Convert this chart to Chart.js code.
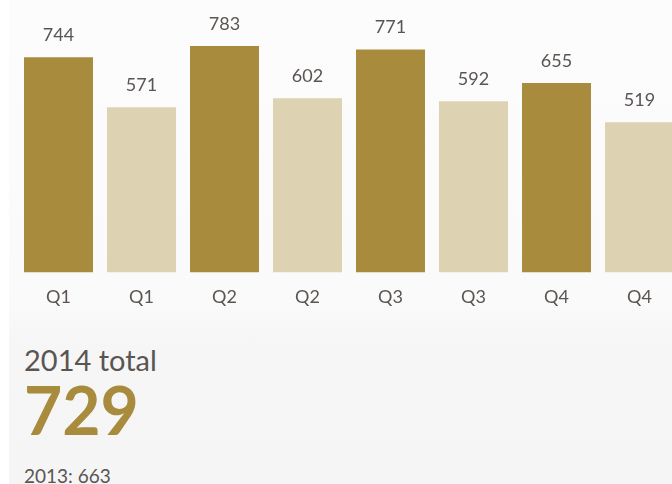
<!DOCTYPE html>
<html>
<head>
<meta charset="utf-8">
<script src="https://cdn.jsdelivr.net/npm/chart.js@4/dist/chart.umd.min.js"></script>
<style>
  html, body { margin: 0; padding: 0; background: #fff; overflow: hidden; width: 672px; height: 484px; }
  #panel { position: absolute; left: 9px; top: 0; width: 700px; height: 484px;
           background: linear-gradient(#fcfcfc 0px, #fafafa 300px, #f6f6f6 340px, #f5f5f5 484px); }
  #wrap { position: absolute; left: 0; top: 0; width: 690px; height: 334px; }
  .txt { position: absolute; font-family: Lato, "Open Sans", sans-serif; color: #5a5552; white-space: nowrap; }
  #totLabel { left: 24px; top: 342px; font-size: 29px; }
  #totValue { left: 24px; top: 370px; font-size: 66px; font-weight: bold; color: #a88b3c; line-height: 80px; }
  #prevValue { left: 24px; top: 464px; font-size: 19px; }
</style>
</head>
<body>
<div id="panel"></div>
<div id="wrap"><canvas id="quarterChart"></canvas></div>
<div class="txt" id="totLabel"></div>
<div class="txt" id="totValue"></div>
<div class="txt" id="prevValue"></div>
<script>
// quarters, 2014 bars in gold and 2013 bars in beige
const quarters = ['Q1', 'Q1', 'Q2', 'Q2', 'Q3', 'Q3', 'Q4', 'Q4'];
const values = [744, 571, 783, 602, 771, 592, 655, 519];
const barColors = ['#a88b3c', '#ddd2b1', '#a88b3c', '#ddd2b1', '#a88b3c', '#ddd2b1', '#a88b3c', '#ddd2b1'];

const totalLabel = '2014 total';
const totalValue = 729;
const prevYear = '2013';
const prevValue = 663;

document.getElementById('totLabel').textContent = totalLabel;
document.getElementById('totValue').textContent = totalValue;
document.getElementById('prevValue').textContent = prevYear + ': ' + prevValue;

// numbers above each bar
const valueLabels = {
  id: 'valueLabels',
  afterDatasetsDraw(chart) {
    const ctx = chart.ctx;
    ctx.save();
    ctx.font = '18px Lato, "Open Sans", sans-serif';
    ctx.fillStyle = '#5a5552';
    ctx.textAlign = 'center';
    ctx.textBaseline = 'middle';
    chart.getDatasetMeta(0).data.forEach((bar, i) => {
      ctx.fillText(chart.data.datasets[0].data[i], bar.x, bar.y - 22);
    });
    ctx.restore();
  }
};

new Chart(document.getElementById('quarterChart'), {
  type: 'bar',
  data: {
    labels: quarters,
    datasets: [{
      data: values,
      backgroundColor: barColors,
      barPercentage: 0.831,
      categoryPercentage: 1
    }]
  },
  options: {
    responsive: true,
    maintainAspectRatio: false,
    animation: false,
    layout: { padding: { top: 41, left: 17, right: 9, bottom: 12 } },
    plugins: { legend: { display: false }, tooltip: { enabled: false } },
    scales: {
      x: {
        grid: { display: false, drawTicks: false },
        border: { display: false },
        ticks: { color: '#5a5552', padding: 14, font: { family: 'Lato', size: 18 } }
      },
      y: { display: false, min: 0, max: 800 }
    }
  },
  plugins: [valueLabels]
});
</script>
</body>
</html>
